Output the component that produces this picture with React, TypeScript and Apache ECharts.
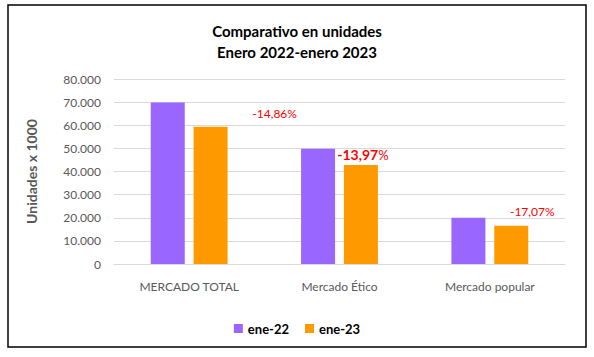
import React, { useEffect, useRef } from "react";
import * as echarts from "echarts";

const categories = ["MERCADO TOTAL", "Mercado Ético", "Mercado popular"];
const ene22 = [69800, 49800, 19950];
const ene23 = [59400, 42850, 16550];
const pctLabels = ["-14,86%", "-13,97%", "-17,07%"];
const boldPct = [false, true, false];
const yTicks = { min: 0, max: 80000, interval: 10000 };

const FONT = "Lato, 'Open Sans', sans-serif";
const labelOffsets = [
  [64, -2],
  [2, 2],
  [21, -3],
];

function fmtThousands(v: number): string {
  const s = String(Math.round(v));
  return s.replace(/\B(?=(\d{3})+(?!\d))/g, ".");
}

export default function App() {
  const ref = useRef<HTMLDivElement>(null);
  useEffect(() => {
    document.body.style.margin = "0";
    const chart = echarts.init(ref.current!, null, { renderer: "svg" });
    chart.setOption({
      animation: false,
      backgroundColor: "#ffffff",
      textStyle: { fontFamily: FONT },
      title: {
        text: "Comparativo en unidades\nEnero 2022-enero 2023",
        left: "center",
        top: 15,
        textStyle: {
          fontFamily: FONT,
          fontSize: 15,
          fontWeight: "bold",
          color: "#000000",
          lineHeight: 21,
        },
      },
      graphic: [
        {
          type: "rect",
          shape: { x: 8, y: 5, width: 578, height: 342 },
          style: { fill: "none", stroke: "#000000", lineWidth: 1.5 },
          silent: true,
        },
      ],
      legend: {
        top: 317,
        left: "center",
        icon: "rect",
        itemWidth: 9,
        itemHeight: 9,
        itemGap: 16,
        textStyle: { fontFamily: FONT, fontSize: 13, fontWeight: "bold", color: "#000000" },
        data: ["ene-22", "ene-23"],
      },
      grid: { left: 114, right: 29, top: 79, bottom: 93, containLabel: false },
      xAxis: {
        type: "category",
        data: categories,
        axisTick: { show: false },
        axisLine: { lineStyle: { color: "#d9d9d9" } },
        axisLabel: { color: "#595959", fontSize: 12, fontFamily: FONT, margin: 16 },
      },
      yAxis: {
        type: "value",
        min: yTicks.min,
        max: yTicks.max,
        interval: yTicks.interval,
        name: "Unidades x 1000",
        nameLocation: "middle",
        nameRotate: 90,
        nameGap: 76,
        nameTextStyle: { color: "#595959", fontSize: 14, fontWeight: "bold", fontFamily: FONT },
        axisLabel: {
          color: "#595959",
          fontSize: 12,
          fontFamily: FONT,
          margin: 13,
          formatter: (v: number) => fmtThousands(v),
        },
        splitLine: { lineStyle: { color: "#d9d9d9" } },
      },
      series: [
        {
          name: "ene-22",
          type: "bar",
          data: ene22,
          barWidth: 34,
          barGap: "26%",
          itemStyle: { color: "#9966FF" },
        },
        {
          name: "ene-23",
          type: "bar",
          data: ene23.map((v, i) => ({
            value: v,
            label: {
              show: true,
              position: "top",
              distance: 5,
              offset: labelOffsets[i],
              formatter: boldPct[i]
                ? "{b|" + pctLabels[i].replace("%", "") + "}{n|%}"
                : "{n|" + pctLabels[i] + "}",
              rich: {
                b: { color: "#FF0000", fontSize: 14, fontWeight: "bold", fontFamily: FONT },
                n: { color: "#FF0000", fontSize: boldPct[i] ? 13 : 12, fontFamily: FONT },
              },
            },
          })),
          barWidth: 34,
          itemStyle: { color: "#FF9900" },
        },
      ],
    });
    return () => chart.dispose();
  }, []);
  return <div ref={ref} style={{ width: 594, height: 357 }} />;
}
